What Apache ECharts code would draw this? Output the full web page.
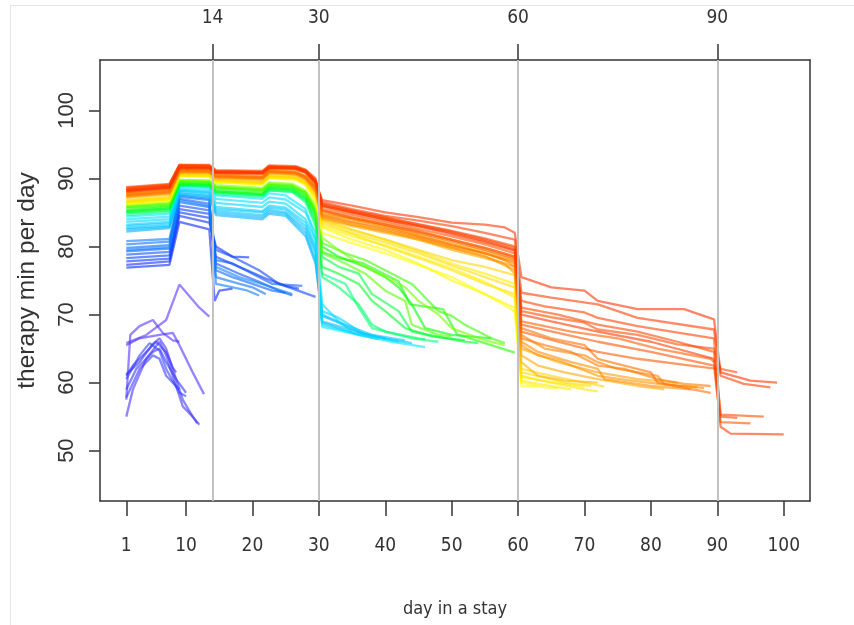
<!DOCTYPE html>
<html>
<head>
<meta charset="utf-8">
<script src="https://cdn.jsdelivr.net/npm/echarts@6/dist/echarts.min.js"></script>
<style>html,body{margin:0;padding:0;background:#fff;}#c{width:854px;height:625px;}</style>
</head>
<body>
<div id="c"></div>
<script>
// ---- axis tick labels ----
const bottomTicks = [1, 10, 20, 30, 40, 50, 60, 70, 80, 90, 100];
const topTicks = [14, 30, 60, 90];
const yTicks = [50, 60, 70, 80, 90, 100];
const refDays = [14, 30, 60, 90];

// ---- series: each line is a list of [day, therapy minutes per day] breakpoints ----
const purpleLines = [
  [[1,65.8],[4,67],[7,69.2],[9,74.4],[12,71],[13.5,69.7]],
  [[1,57.5],[1.6,67],[3,68.3],[5,69.2],[6.5,67.3],[8,66.2],[9,66]],
  [[1,65.5],[3,66.5],[6,67],[8,67.3],[9,65.5],[11,61.5],[12.7,58.3]],
  [[1,55],[2,59],[4,63.5],[6,66],[7,64],[8,61],[9.5,56.5],[11,55],[12,53.8]],
  [[1,61.2],[3,63],[5,65.7],[6,66.5],[7,65],[8,62],[9.5,57.5],[11,55],[11.7,54]],
  [[1,59],[2.5,62],[5,64.5],[6,65],[7,63],[8.5,60.5],[10,58.5]],
  [[1,61],[2,62.5],[4,64.5],[5.5,66],[7,64.5],[8,62.2],[8.5,61.5]],
  [[1,57.8],[3,62],[5,64],[6,63.5],[7,61],[8,60],[9,59]],
  [[1,60.5],[3,64],[4.5,65.8],[6,64.7],[7,62],[9,58.5],[10,58]]
];
const blueLines = [
  [[1,76.9],[7.5,77.3],[9,83.6],[13.5,82.5],[14.3,72],[15,73.5],[17,73.8]],
  [[1,77.3],[7.5,77.8],[9,84.5],[13.5,83.5],[14.5,80],[17,78.5],[19.5,78.4]],
  [[1,77.8],[7.5,78.2],[9,85],[13.5,84.2],[14.5,78.5],[18,77],[22,75.3],[25,74.2],[27,73.8]],
  [[1,78.3],[7.5,78.7],[9,85.5],[13.5,84.8],[14.5,79.5],[17,78.5],[21,76.5],[24,74.5],[29.5,72.6]],
  [[1,78.8],[7.5,79.2],[9,86],[13.5,85.3],[14.5,77.5],[18,76],[21,74.8],[24,73.5],[26,72.8]],
  [[1,79.3],[7.5,79.7],[9,86.5],[13.5,85.8],[14.5,78],[17,77.5],[20,76],[23,74.5],[27.5,74.2]],
  [[1,79.8],[7.5,80.2],[9,87],[13.5,86.3],[14.5,76.5],[17,75.5],[20,74.5],[23,73.5],[25,73.2]],
  [[1,80.3],[7.5,80.7],[9,87.3],[13.5,86.8],[14.5,75.5],[17,74.8],[20,74],[22,73]],
  [[1,80.8],[7.5,81.1],[9,87.5],[13.5,87],[14.5,74.5],[16,74.2],[19,73.6],[21,72.8]],
  [[1,79.5],[7.5,79.9],[9,86.8],[13.5,86],[14.5,77],[18,75.5],[22,74.3],[26,73]]
];
const cyanLines = [
  [[1,82.2],[7.5,82.7],[9,87.6],[13.5,87.2],[14.5,84.6],[21.5,84],[22.5,84.8],[25,84.5],[28,81.5],[29.5,77.5],[30.5,69.8],[33,68.8],[36,67.4],[40,66.5]],
  [[1,82.5],[7.5,82.9],[9,87.8],[13.5,87.4],[14.5,84.9],[21.5,84.3],[22.5,85.1],[25,84.8],[28,82],[29.5,78],[30.5,68.8],[33,68],[36,67],[39,66.4]],
  [[1,82.7],[7.5,83.1],[9,88],[13.5,87.6],[14.5,85.2],[21.5,84.6],[22.5,85.4],[25,85],[28,82.5],[29.5,79],[30.5,69],[34,68],[38,66.8],[44,65.8]],
  [[1,83],[7.5,83.4],[9,88.2],[13.5,87.9],[14.5,85.5],[21.5,85],[22.5,85.7],[25,85.4],[28,83],[29.5,79.5],[30.5,70],[34,68.5],[38,67],[43,66.2]],
  [[1,83.2],[7.5,83.6],[9,88.3],[13.5,88],[14.5,85.8],[21.5,85.2],[22.5,86],[25,85.7],[28,83.5],[29.5,80],[30.5,70.5],[33,69.5],[37,67]],
  [[1,83.6],[7.5,84],[9,88.5],[13.5,88.3],[14.5,86.4],[21.5,85.8],[22.5,86.6],[25,86.3],[28,84],[29.5,81],[30.5,68.5],[35,67.3],[39,66.6],[42,66]],
  [[1,84],[7.5,84.4],[9,88.8],[13.5,88.6],[14.5,87],[21.5,86.4],[22.5,87.2],[25,86.9],[28,85],[29.5,82],[30.5,71.5],[33,69],[35,67.5]],
  [[1,84.4],[7.5,84.8],[9,89],[13.5,88.8],[14.5,87.5],[21.5,87],[22.5,87.8],[25,87.5],[28,85.5],[29.5,81],[30.5,68.2],[36,67],[41,66],[46,65.2]]
];
const greenLines = [
  [[1,84.6],[7.5,85.1],[9,88.9],[13.5,88.8],[14.5,87.7],[21.5,87.3],[22.5,88.2],[26,88],[28,86.5],[29.5,83],[30.5,76],[34,74.5],[36,71],[38,68],[44,66.5],[48,66]],
  [[1,84.9],[7.5,85.3],[9,89],[13.5,88.9],[14.5,87.9],[21.5,87.5],[22.5,88.3],[26,88.1],[28,86.8],[29.5,83.5],[30.5,75.5],[33,74],[36,71.5],[38,68.5],[40,67.5],[45,66.5],[46,66.4]],
  [[1,85],[7.5,85.5],[9,89.1],[13.5,89],[14.5,88],[21.5,87.6],[22.5,88.5],[26,88.3],[28,87],[29.5,84],[30.5,78.5],[33,77],[36,76],[38,73],[42,70.5],[44,67.5],[52,66],[54,65.8]],
  [[1,85.2],[7.5,85.6],[9,89.2],[13.5,89.1],[14.5,88.1],[21.5,87.7],[22.5,88.6],[26,88.4],[28,87.2],[29.5,84.5],[30.5,77],[33,76],[36,74.5],[38,72],[40,70.5],[43,68],[47,66.8],[52,66.2]],
  [[1,85.3],[7.5,85.8],[9,89.3],[13.5,89.2],[14.5,88.3],[21.5,87.9],[22.5,88.8],[26,88.6],[28,87.5],[29.5,85],[30.5,80],[33,78.5],[37,77],[40,75.5],[42,74],[44,71.5],[46,68],[50,67],[56,66.5]],
  [[1,85.6],[7.5,86],[9,89.5],[13.5,89.4],[14.5,88.6],[21.5,88.2],[22.5,89],[26,88.8],[28,87.8],[29.5,85],[30.5,79.2],[33,78.3],[36.5,77.6],[42,74.9],[43.7,71.5],[48.7,70.8],[50.8,67.1],[55,65.8],[59.5,64.4]],
  [[1,85.8],[7.5,86.2],[9,89.6],[13.5,89.5],[14.5,88.7],[21.5,88.3],[22.5,89.1],[26,88.9],[28,87.9],[29.5,85.3],[30.5,80.5],[34,79],[37,78],[41,76],[44,74.5],[46,72.5],[48,70.5],[50,69.8],[52,68.5],[56,66.5],[58,65.8]],
  [[1,85.9],[7.5,86.3],[9,89.7],[13.5,89.6],[14.5,88.8],[21.5,88.4],[22.5,89.2],[26,89],[28,88],[29.5,85.5],[30.5,79],[34,77.5],[37,76],[40,73.5],[43,72],[44,68.5],[48,67],[50,66.8]],
  [[1,86.1],[7.5,86.5],[9,89.8],[13.5,89.7],[14.5,89],[21.5,88.6],[22.5,89.4],[26,89.2],[28,88.2],[29.5,86],[30.5,81.3],[33,79.5],[36,77.5],[40,75.5],[43,74],[45,72],[48,70],[50,68],[55,66.2],[58,65.5]]
];
const yellowLines = [
  [[1,86.3],[7.5,86.8],[9,90.4],[13.5,90.3],[14.5,89.5],[21.5,89.2],[22.5,90.1],[26.5,89.9],[28,89.1],[29.5,86.5],[30.5,82],[35,80.5],[40,79],[45,77.3],[50,75.5],[55,73],[59.5,70.5],[60.5,59.5],[63,59.4]],
  [[1,86.2],[7.5,86.7],[9,90.3],[13.5,90.2],[14.5,89.4],[21.5,89.1],[22.5,90],[26.5,89.8],[28,89],[29.5,87],[30.5,82.8],[35,81],[40,79.5],[45,77.5],[50,75],[55,73],[59.5,71],[60.5,60],[64,59.3],[66,59.2]],
  [[1,86.4],[7.5,86.9],[9,90.4],[13.5,90.3],[14.5,89.5],[21.5,89.2],[22.5,90.1],[26.5,89.9],[28,89.2],[29.5,87.2],[30.5,83],[35,81.5],[40,80.2],[45,78.5],[50,76.8],[55,74.8],[59.5,72.5],[60.5,60.8],[64,60.2],[69,59.5],[70,59.3]],
  [[1,86.7],[7.5,87.2],[9,90.6],[13.5,90.5],[14.5,89.7],[21.5,89.4],[22.5,90.3],[26.5,90.1],[28,89.4],[29.5,87.8],[30.5,84],[35,82.5],[40,81],[45,79.3],[50,77.5],[55,76],[59.5,74.5],[60.5,60.3],[63,59.8],[68,59]],
  [[1,86.5],[7.5,87],[9,90.5],[13.5,90.4],[14.5,89.6],[21.5,89.3],[22.5,90.2],[26.5,90],[28,89.2],[29.5,87.5],[30.5,83.3],[35,81.8],[40,80],[45,78.3],[50,76.5],[55,74.5],[59.5,73],[60.5,61],[65,60],[70,59],[72,58.7]],
  [[1,86.6],[7.5,87.1],[9,90.5],[13.5,90.5],[14.5,89.7],[21.5,89.4],[22.5,90.3],[26.5,90.1],[28,89.3],[29.5,87.6],[30.5,83.6],[35,82],[40,80.6],[45,79],[50,77.2],[55,75.5],[59.5,74],[60.5,61.5],[63,61],[67,60],[71,59.5]],
  [[1,86.9],[7.5,87.4],[9,90.7],[13.5,90.6],[14.5,89.8],[21.5,89.5],[22.5,90.4],[26.5,90.2],[28,89.5],[29.5,88],[30.5,83.8],[35,82.4],[40,81],[45,79.5],[50,78],[55,77],[59.5,75.8],[60.5,62],[65,61],[70,60],[73,59.4]]
];
const orangeLines = [
  [[1,87.8],[7.5,88.3],[9,91.3],[13.5,91.2],[14.5,90.4],[21.5,90.2],[22.5,91.1],[26.5,90.9],[28,90.3],[29.5,88.7],[30.5,85],[35,84],[40,83],[45,81.8],[50,80.5],[55,79.3],[59.5,78],[60.5,63],[63,61],[67,60.3],[72,60]],
  [[1,87.2],[7.5,87.7],[9,90.8],[13.5,90.8],[14.5,90],[21.5,89.8],[22.5,90.7],[26.5,90.5],[28,89.8],[29.5,88],[30.5,84],[35,83],[40,82],[45,81],[50,79.5],[55,78.3],[58,77.5],[59.5,76],[60.5,64],[63,62.5],[67,61.5],[72,60.5],[78,59.5],[82,59]],
  [[1,87.9],[7.5,88.4],[9,91.4],[13.5,91.3],[14.5,90.5],[21.5,90.3],[22.5,91.2],[26.5,91],[28,90.4],[29.5,88.8],[30.5,84.2],[35,83.2],[40,82.3],[45,81],[50,79.8],[55,78.5],[59.5,77],[60.5,65],[66,63],[72,61.5],[78,60.5],[84,60]],
  [[1,87.3],[7.5,87.8],[9,90.9],[13.5,90.9],[14.5,90.1],[21.5,89.9],[22.5,90.8],[26.5,90.6],[28,89.9],[29.5,88.2],[30.5,84.3],[35,83.2],[40,82.2],[45,81.2],[50,79.8],[55,78.6],[59.5,76.5],[60.5,65.5],[63,64],[66,63.3],[72,61],[77,60.3],[84,59.5],[87,59.3]],
  [[1,87.4],[7.5,87.9],[9,91],[13.5,91],[14.5,90.2],[21.5,90],[22.5,90.9],[26.5,90.7],[28,90],[29.5,88.3],[30.5,84.5],[35,83.5],[40,82.5],[45,81.3],[50,80],[55,79],[58,78],[59.5,77],[60.5,66],[63,64.5],[68,63],[72,62],[73,60.5],[80,59.5],[86,59]],
  [[1,87.6],[7.5,88.1],[9,91.2],[13.5,91.1],[14.5,90.3],[21.5,90.1],[22.5,91],[26.5,90.8],[28,90.2],[29.5,88.5],[30.5,84.8],[35,84],[40,83],[45,81.6],[50,80.3],[55,79],[59.5,77.5],[60.5,67],[64,65],[70,64],[72,63],[75,62],[81,61],[82,59.8],[88,59.2]],
  [[1,87.7],[7.5,88.2],[9,91.2],[13.5,91.2],[14.5,90.4],[21.5,90.2],[22.5,91.1],[26.5,90.9],[28,90.3],[29.5,88.7],[30.5,84.6],[35,83.6],[40,82.7],[45,81.5],[50,80.2],[55,79],[59.5,77.8],[60.5,66.5],[64,65.5],[68,64.5],[72,62.5],[76,62],[81,60.5],[85,59.8],[89,59.5]],
  [[1,87.5],[7.5,88],[9,91.1],[13.5,91],[14.5,90.3],[21.5,90.1],[22.5,91],[26.5,90.8],[28,90.1],[29.5,88.6],[30.5,85.2],[35,84.2],[40,83.2],[45,82.2],[50,81],[55,79.8],[59.5,78.5],[60.5,68],[65,66.5],[70,65.5],[72,63.5],[80,61.5],[81,60],[89,58.5]]
];
const redLines = [
  [[1,88.5],[7.5,89],[9,91.9],[13.5,91.8],[14.5,91],[21.5,90.9],[22.5,91.7],[26.5,91.6],[28,91.1],[29.5,89.5],[30.5,85.5],[35,84.5],[40,83.5],[45,82.3],[50,81],[55,79.8],[59.5,78.5],[60.5,69],[68,67.5],[75,66.5],[81,65],[89,63.5],[89.5,63]],
  [[1,88],[7.5,88.5],[9,91.4],[13.5,91.4],[14.5,90.7],[21.5,90.6],[22.5,91.4],[26.5,91.3],[28,90.8],[29.5,89.2],[30.5,85.3],[35,84.2],[40,83.2],[45,82],[50,80.8],[55,79.5],[59.5,78.2],[60.5,67.5],[66,66],[72,64.5],[78,63.5],[86,62.5],[90,62]],
  [[1,88.3],[7.5,88.8],[9,91.7],[13.5,91.6],[14.5,90.9],[21.5,90.8],[22.5,91.6],[26.5,91.5],[28,91],[29.5,89.4],[30.5,85.8],[35,84.8],[40,83.8],[45,82.6],[50,81.5],[55,80.3],[59.5,79],[60.5,68.5],[66,67.3],[72,66],[80,64.5],[89.5,62.5],[90.5,54.2],[95,54]],
  [[1,88.3],[7.5,88.8],[9,91.7],[13.5,91.7],[14.5,91],[21.5,90.9],[22.5,91.7],[26.5,91.6],[28,91.1],[29.5,89.6],[30.5,86.2],[35,85.2],[40,84.2],[45,83.2],[50,82.2],[55,81],[59.5,79.8],[60.5,70.5],[65,69.6],[70,68.8],[72,67.8],[78,67],[84,65.6],[89.5,65],[90.5,62],[93,61.5]],
  [[1,88.6],[7.5,89.1],[9,92],[13.5,91.9],[14.5,91.1],[21.5,91],[22.5,91.8],[26.5,91.7],[28,91.2],[29.5,89.8],[30.5,86.3],[35,85.3],[40,84.3],[45,83.3],[50,82.3],[55,81.2],[59.5,80],[60.5,71],[66,70],[72,68.5],[78,67.5],[84,66],[89.5,64.5],[90.5,55.3],[97,55]],
  [[1,88.7],[7.5,89.2],[9,92],[13.5,92],[14.5,91.2],[21.5,91.1],[22.5,91.9],[26.5,91.8],[28,91.3],[29.5,90],[30.5,86],[35,85.1],[40,84],[45,83],[50,81.8],[55,80.6],[59.5,79.4],[60.5,72],[64,71.2],[70,70.3],[72,69.5],[78,68.3],[85,67.2],[89.5,66.5],[90.5,55],[93,54.8]],
  [[1,88.4],[7.5,88.9],[9,91.8],[13.5,91.7],[14.5,91],[21.5,90.9],[22.5,91.7],[26.5,91.6],[28,91.1],[29.5,89.6],[30.5,86.5],[35,85.5],[40,84.5],[45,83.8],[50,83],[55,82],[59.5,81],[60.5,73.2],[65,72.5],[72,71.5],[78,69.5],[89.5,67.8],[90.5,61],[94,59.8],[98,59.3]],
  [[1,88.1],[7.5,88.6],[9,91.5],[13.5,91.5],[14.5,90.8],[21.5,90.7],[22.5,91.5],[26.5,91.4],[28,90.9],[29.5,89.3],[30.5,86],[35,85],[40,84],[45,83],[50,82],[55,80.8],[59.5,79.5],[60.5,70],[65,69],[72,67.5],[80,66],[89.5,63.5],[90.5,53.5],[92,52.5],[100,52.4]],
  [[1,88.2],[7.5,88.7],[9,91.6],[13.5,91.6],[14.5,90.9],[21.5,90.8],[22.5,91.6],[26.5,91.5],[28,91],[29.5,89.5],[30.5,86.8],[35,86],[40,85],[45,84.3],[50,83.5],[55,83.2],[58,82.8],[59.5,82],[60.5,75.5],[65,74],[70,73.5],[72,72],[78,70.8],[85,70.8],[89.5,69.3],[90.5,61.5],[95,60.3],[99,60]]
];

// ---- styling (hue ranges per group, drawn short stays first) ----
const groupStyles = [
  { lines: purpleLines, h0: 252, h1: 236, l: 60 },
  { lines: blueLines,   h0: 234, h1: 210, l: 52 },
  { lines: cyanLines,   h0: 198, h1: 186, l: 50 },
  { lines: greenLines,  h0: 150, h1: 92,  l: 50 },
  { lines: yellowLines, h0: 60,  h1: 50,  l: 50 },
  { lines: orangeLines, h0: 42,  h1: 26,  l: 50 },
  { lines: redLines,    h0: 22,  h1: 12,  l: 50 }
];

const narrow = "'Liberation Sans Narrow','Arial Narrow','DejaVu Sans Condensed','Liberation Sans',Arial,sans-serif";
const sans = "'Liberation Sans',Arial,Helvetica,sans-serif";
const ink = '#333';
const XMIN = -2.96, XMAX = 103.96, YMIN = 42.6, YMAX = 107.4;

const series = [{
  type: 'line', data: [], silent: true, z: 1,
  markLine: {
    silent: true, symbol: ['none', 'none'], animation: false,
    label: { show: false },
    lineStyle: { color: '#c2c2c2', width: 2, type: 'solid' },
    data: refDays.map(d => ({ xAxis: d }))
  }
}];
groupStyles.forEach(g => {
  const n = g.lines.length;
  g.lines.forEach((line, i) => {
    const h = n > 1 ? g.h0 + (g.h1 - g.h0) * i / (n - 1) : g.h0;
    series.push({
      type: 'line', data: line, showSymbol: false, symbol: 'none', z: 2,
      silent: true, animation: false,
      lineStyle: { color: `hsl(${h},100%,${g.l}%)`, width: 2.3, opacity: 0.6 }
    });
  });
});

const chart = echarts.init(document.getElementById('c'), null, { renderer: 'canvas' });
chart.setOption({
  animation: false,
  backgroundColor: '#fff',
  graphic: [{
    type: 'rect', silent: true, z: -10,
    shape: { x: 10.5, y: 5.5, width: 900, height: 700 },
    style: { fill: 'none', stroke: '#e4e4e4', lineWidth: 1 }
  }],
  grid: { left: 100, right: 44, top: 60, bottom: 124, containLabel: false },
  xAxis: [{
    type: 'value', position: 'bottom', min: XMIN, max: XMAX,
    axisLine: { show: true, onZero: false, lineStyle: { color: ink, width: 1.5 } },
    axisTick: { show: true, inside: false, length: 15, customValues: bottomTicks, lineStyle: { color: ink, width: 1.5 } },
    axisLabel: { show: true, customValues: bottomTicks, margin: 36, fontSize: 19, fontFamily: narrow, color: ink },
    splitLine: { show: false },
    name: 'day in a stay', nameLocation: 'middle', nameGap: 99,
    nameTextStyle: { fontSize: 18, fontFamily: narrow, color: ink }
  }, {
    type: 'value', position: 'top', min: XMIN, max: XMAX,
    axisLine: { show: true, onZero: false, lineStyle: { color: ink, width: 1.5 } },
    axisTick: { show: true, inside: false, length: 16, customValues: topTicks, lineStyle: { color: ink, width: 1.5 } },
    axisLabel: { show: true, customValues: topTicks, margin: 32, fontSize: 19, fontFamily: narrow, color: ink },
    splitLine: { show: false }
  }],
  yAxis: [{
    type: 'value', position: 'left', min: YMIN, max: YMAX,
    axisLine: { show: true, onZero: false, lineStyle: { color: ink, width: 1.5 } },
    axisTick: { show: true, inside: false, length: 11, customValues: yTicks, lineStyle: { color: ink, width: 1.5 } },
    axisLabel: { show: true, customValues: yTicks, rotate: 90, margin: 22, fontSize: 22, fontFamily: sans, color: ink },
    splitLine: { show: false },
    name: 'therapy min per day', nameLocation: 'middle', nameRotate: 90, nameGap: 60,
    nameTextStyle: { fontSize: 24.5, fontFamily: sans, color: ink }
  }, {
    type: 'value', position: 'right', min: YMIN, max: YMAX,
    axisLine: { show: true, onZero: false, lineStyle: { color: ink, width: 1.5 } },
    axisTick: { show: false }, axisLabel: { show: false }, splitLine: { show: false }
  }],
  series: series
});
</script>
</body>
</html>
